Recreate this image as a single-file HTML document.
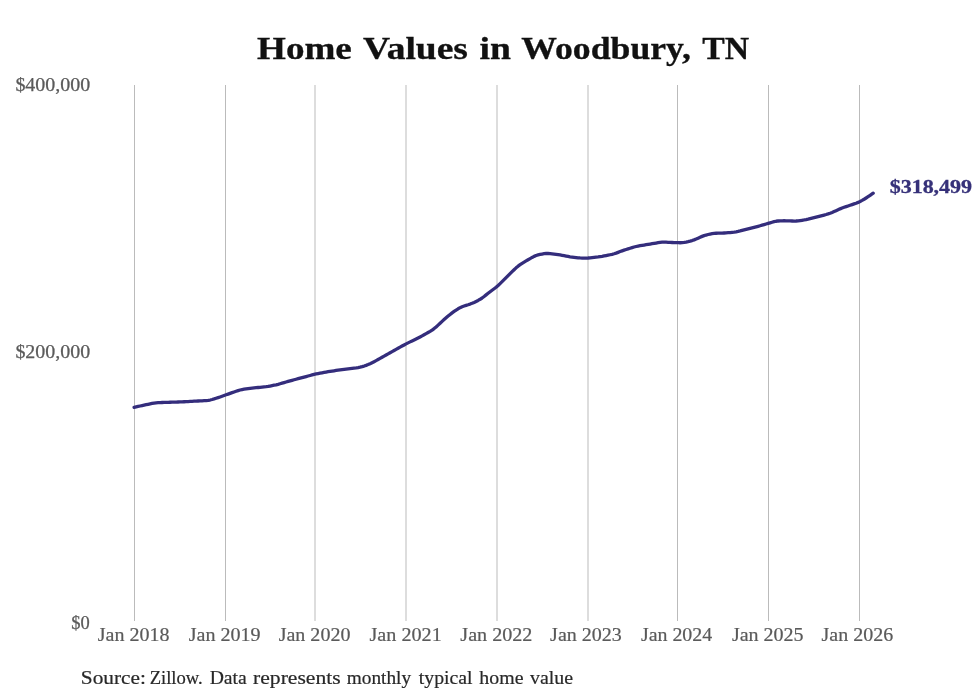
<!DOCTYPE html>
<html><head><meta charset="utf-8"><style>
html,body{margin:0;padding:0;background:#fff;}
svg{display:block;will-change:transform;}
text{font-family:"Liberation Serif",serif;}
</style></head><body>
<svg width="980" height="699" viewBox="0 0 980 699">
<rect width="980" height="699" fill="#fff"/>
<g stroke="#bbb" stroke-width="1"><line x1="134.5" y1="85" x2="134.5" y2="621"/><line x1="225.5" y1="85" x2="225.5" y2="621"/><line x1="315.0" y1="85" x2="315.0" y2="621"/><line x1="406.0" y1="85" x2="406.0" y2="621"/><line x1="497.0" y1="85" x2="497.0" y2="621"/><line x1="588.0" y1="85" x2="588.0" y2="621"/><line x1="677.5" y1="85" x2="677.5" y2="621"/><line x1="768.5" y1="85" x2="768.5" y2="621"/><line x1="859.5" y1="85" x2="859.5" y2="621"/></g>
<text x="257.06" y="59.0" font-size="30.5" font-weight="bold" fill="#111" stroke="#111" stroke-width="0.3" textLength="94.78" lengthAdjust="spacingAndGlyphs">Home</text>
<text x="363.00" y="59.0" font-size="30.5" font-weight="bold" fill="#111" stroke="#111" stroke-width="0.3" textLength="104.90" lengthAdjust="spacingAndGlyphs">Values</text>
<text x="479.45" y="59.0" font-size="30.5" font-weight="bold" fill="#111" stroke="#111" stroke-width="0.3" textLength="31.38" lengthAdjust="spacingAndGlyphs">in</text>
<text x="521.32" y="59.0" font-size="30.5" font-weight="bold" fill="#111" stroke="#111" stroke-width="0.3" textLength="169.55" lengthAdjust="spacingAndGlyphs">Woodbury,</text>
<text x="702.35" y="59.0" font-size="30.5" font-weight="bold" fill="#111" stroke="#111" stroke-width="0.3" textLength="46.88" lengthAdjust="spacingAndGlyphs">TN</text>
<text x="15.40" y="90.5" font-size="17.8" font-weight="normal" fill="#5a5a5a" stroke="#5a5a5a" stroke-width="0.25" textLength="74.83" lengthAdjust="spacingAndGlyphs">$400,000</text>
<text x="15.40" y="358.3" font-size="17.8" font-weight="normal" fill="#5a5a5a" stroke="#5a5a5a" stroke-width="0.25" textLength="74.83" lengthAdjust="spacingAndGlyphs">$200,000</text>
<text x="71.36" y="628.7" font-size="17.8" font-weight="normal" fill="#5a5a5a" stroke="#5a5a5a" stroke-width="0.25" textLength="18.48" lengthAdjust="spacingAndGlyphs">$0</text>
<text x="97.80" y="640.5" font-size="18.4" font-weight="normal" fill="#5a5a5a" stroke="#5a5a5a" stroke-width="0.2" textLength="71.73" lengthAdjust="spacingAndGlyphs">Jan 2018</text>
<text x="188.80" y="640.5" font-size="18.4" font-weight="normal" fill="#5a5a5a" stroke="#5a5a5a" stroke-width="0.2" textLength="71.86" lengthAdjust="spacingAndGlyphs">Jan 2019</text>
<text x="278.70" y="640.5" font-size="18.4" font-weight="normal" fill="#5a5a5a" stroke="#5a5a5a" stroke-width="0.2" textLength="71.73" lengthAdjust="spacingAndGlyphs">Jan 2020</text>
<text x="369.50" y="640.5" font-size="18.4" font-weight="normal" fill="#5a5a5a" stroke="#5a5a5a" stroke-width="0.2" textLength="72.27" lengthAdjust="spacingAndGlyphs">Jan 2021</text>
<text x="460.30" y="640.5" font-size="18.4" font-weight="normal" fill="#5a5a5a" stroke="#5a5a5a" stroke-width="0.2" textLength="72.14" lengthAdjust="spacingAndGlyphs">Jan 2022</text>
<text x="550.10" y="640.5" font-size="18.4" font-weight="normal" fill="#5a5a5a" stroke="#5a5a5a" stroke-width="0.2" textLength="71.73" lengthAdjust="spacingAndGlyphs">Jan 2023</text>
<text x="640.90" y="640.5" font-size="18.4" font-weight="normal" fill="#5a5a5a" stroke="#5a5a5a" stroke-width="0.2" textLength="71.32" lengthAdjust="spacingAndGlyphs">Jan 2024</text>
<text x="731.90" y="640.5" font-size="18.4" font-weight="normal" fill="#5a5a5a" stroke="#5a5a5a" stroke-width="0.2" textLength="71.73" lengthAdjust="spacingAndGlyphs">Jan 2025</text>
<text x="821.60" y="640.5" font-size="18.4" font-weight="normal" fill="#5a5a5a" stroke="#5a5a5a" stroke-width="0.2" textLength="71.59" lengthAdjust="spacingAndGlyphs">Jan 2026</text>
<text x="889.67" y="192.6" font-size="18" font-weight="bold" fill="#363179" stroke="#363179" stroke-width="0.3" textLength="82.44" lengthAdjust="spacingAndGlyphs">$318,499</text>
<text x="80.78" y="683.6" font-size="19" font-weight="normal" fill="#282828" stroke="#282828" stroke-width="0.2" textLength="65.16" lengthAdjust="spacingAndGlyphs">Source:</text>
<text x="149.63" y="683.6" font-size="19" font-weight="normal" fill="#282828" stroke="#282828" stroke-width="0.2" textLength="53.08" lengthAdjust="spacingAndGlyphs">Zillow.</text>
<text x="209.68" y="683.6" font-size="19" font-weight="normal" fill="#282828" stroke="#282828" stroke-width="0.2" textLength="37.11" lengthAdjust="spacingAndGlyphs">Data</text>
<text x="253.07" y="683.6" font-size="19" font-weight="normal" fill="#282828" stroke="#282828" stroke-width="0.2" textLength="87.56" lengthAdjust="spacingAndGlyphs">represents</text>
<text x="346.81" y="683.6" font-size="19" font-weight="normal" fill="#282828" stroke="#282828" stroke-width="0.2" textLength="64.32" lengthAdjust="spacingAndGlyphs">monthly</text>
<text x="418.77" y="683.6" font-size="19" font-weight="normal" fill="#282828" stroke="#282828" stroke-width="0.2" textLength="53.75" lengthAdjust="spacingAndGlyphs">typical</text>
<text x="479.37" y="683.6" font-size="19" font-weight="normal" fill="#282828" stroke="#282828" stroke-width="0.2" textLength="44.13" lengthAdjust="spacingAndGlyphs">home</text>
<text x="530.00" y="683.6" font-size="19" font-weight="normal" fill="#282828" stroke="#282828" stroke-width="0.2" textLength="43.04" lengthAdjust="spacingAndGlyphs">value</text>
<path d="M134.1,407.30 L136.1,406.87 L138.1,406.44 L140.1,406.01 L142.1,405.58 L144.1,405.15 L146.1,404.72 L148.1,404.29 L150.1,403.86 L152.1,403.45 L154.1,403.08 L156.1,402.82 L158.1,402.65 L160.1,402.56 L162.1,402.49 L164.1,402.43 L166.1,402.37 L168.1,402.30 L170.1,402.24 L172.1,402.18 L174.1,402.12 L176.1,402.05 L178.1,401.99 L180.1,401.92 L182.1,401.83 L184.1,401.73 L186.1,401.63 L188.1,401.53 L190.1,401.42 L192.1,401.32 L194.1,401.21 L196.1,401.11 L198.1,401.00 L200.1,400.90 L202.1,400.79 L204.1,400.68 L206.1,400.56 L208.1,400.36 L210.1,400.02 L212.1,399.52 L214.1,398.92 L216.1,398.27 L218.1,397.61 L220.1,396.94 L222.1,396.24 L224.1,395.53 L226.1,394.82 L228.1,394.10 L230.1,393.39 L232.1,392.67 L234.1,391.96 L236.1,391.25 L238.1,390.58 L240.1,389.99 L242.1,389.53 L244.1,389.17 L246.1,388.87 L248.1,388.58 L250.1,388.32 L252.1,388.09 L254.1,387.88 L256.1,387.70 L258.1,387.51 L260.1,387.33 L262.1,387.14 L264.1,386.93 L266.1,386.68 L268.1,386.37 L270.1,386.01 L272.1,385.64 L274.1,385.24 L276.1,384.80 L278.1,384.30 L280.1,383.74 L282.1,383.17 L284.1,382.60 L286.1,382.02 L288.1,381.45 L290.1,380.88 L292.1,380.33 L294.1,379.78 L296.1,379.24 L298.1,378.70 L300.1,378.17 L302.1,377.63 L304.1,377.10 L306.1,376.56 L308.1,376.01 L310.1,375.47 L312.1,374.93 L314.1,374.42 L316.1,373.97 L318.1,373.56 L320.1,373.19 L322.1,372.82 L324.1,372.45 L326.1,372.09 L328.1,371.73 L330.1,371.39 L332.1,371.07 L334.1,370.77 L336.1,370.48 L338.1,370.19 L340.1,369.91 L342.1,369.62 L344.1,369.34 L346.1,369.08 L348.1,368.84 L350.1,368.60 L352.1,368.38 L354.1,368.15 L356.1,367.90 L358.1,367.59 L360.1,367.18 L362.1,366.65 L364.1,366.06 L366.1,365.38 L368.1,364.59 L370.1,363.67 L372.1,362.69 L374.1,361.68 L376.1,360.64 L378.1,359.55 L380.1,358.42 L382.1,357.29 L384.1,356.14 L386.1,355.00 L388.1,353.86 L390.1,352.73 L392.1,351.61 L394.1,350.49 L396.1,349.38 L398.1,348.26 L400.1,347.15 L402.1,346.03 L404.1,344.94 L406.1,343.87 L408.1,342.86 L410.1,341.87 L412.1,340.91 L414.1,339.94 L416.1,338.97 L418.1,337.99 L420.1,336.97 L422.1,335.90 L424.1,334.78 L426.1,333.64 L428.1,332.50 L430.1,331.32 L432.1,330.06 L434.1,328.61 L436.1,326.93 L438.1,325.10 L440.1,323.22 L442.1,321.35 L444.1,319.54 L446.1,317.79 L448.1,316.09 L450.1,314.44 L452.1,312.85 L454.1,311.39 L456.1,310.04 L458.1,308.80 L460.1,307.67 L462.1,306.74 L464.1,306.00 L466.1,305.36 L468.1,304.75 L470.1,304.08 L472.1,303.31 L474.1,302.41 L476.1,301.44 L478.1,300.42 L480.1,299.30 L482.1,298.01 L484.1,296.51 L486.1,294.90 L488.1,293.30 L490.1,291.77 L492.1,290.29 L494.1,288.80 L496.1,287.22 L498.1,285.49 L500.1,283.61 L502.1,281.66 L504.1,279.68 L506.1,277.69 L508.1,275.70 L510.1,273.70 L512.1,271.70 L514.1,269.73 L516.1,267.84 L518.1,266.15 L520.1,264.68 L522.1,263.37 L524.1,262.13 L526.1,260.92 L528.1,259.73 L530.1,258.56 L532.1,257.43 L534.1,256.37 L536.1,255.49 L538.1,254.86 L540.1,254.41 L542.1,254.04 L544.1,253.71 L546.1,253.48 L548.1,253.42 L550.1,253.54 L552.1,253.77 L554.1,254.04 L556.1,254.32 L558.1,254.62 L560.1,254.94 L562.1,255.30 L564.1,255.68 L566.1,256.07 L568.1,256.44 L570.1,256.78 L572.1,257.07 L574.1,257.33 L576.1,257.58 L578.1,257.80 L580.1,257.97 L582.1,258.06 L584.1,258.08 L586.1,258.06 L588.1,257.98 L590.1,257.83 L592.1,257.63 L594.1,257.42 L596.1,257.19 L598.1,256.96 L600.1,256.68 L602.1,256.36 L604.1,255.98 L606.1,255.58 L608.1,255.18 L610.1,254.76 L612.1,254.30 L614.1,253.75 L616.1,253.09 L618.1,252.35 L620.1,251.58 L622.1,250.84 L624.1,250.13 L626.1,249.48 L628.1,248.85 L630.1,248.23 L632.1,247.61 L634.1,247.02 L636.1,246.49 L638.1,246.06 L640.1,245.69 L642.1,245.35 L644.1,245.03 L646.1,244.70 L648.1,244.37 L650.1,244.04 L652.1,243.70 L654.1,243.36 L656.1,243.01 L658.1,242.67 L660.1,242.38 L662.1,242.21 L664.1,242.16 L666.1,242.21 L668.1,242.30 L670.1,242.39 L672.1,242.48 L674.1,242.56 L676.1,242.64 L678.1,242.71 L680.1,242.74 L682.1,242.66 L684.1,242.42 L686.1,242.05 L688.1,241.62 L690.1,241.13 L692.1,240.56 L694.1,239.86 L696.1,239.03 L698.1,238.14 L700.1,237.25 L702.1,236.39 L704.1,235.65 L706.1,235.03 L708.1,234.51 L710.1,234.05 L712.1,233.66 L714.1,233.40 L716.1,233.25 L718.1,233.18 L720.1,233.13 L722.1,233.07 L724.1,232.99 L726.1,232.87 L728.1,232.71 L730.1,232.53 L732.1,232.33 L734.1,232.10 L736.1,231.80 L738.1,231.41 L740.1,230.94 L742.1,230.42 L744.1,229.90 L746.1,229.37 L748.1,228.85 L750.1,228.34 L752.1,227.83 L754.1,227.33 L756.1,226.82 L758.1,226.31 L760.1,225.77 L762.1,225.20 L764.1,224.61 L766.1,224.00 L768.1,223.40 L770.1,222.80 L772.1,222.22 L774.1,221.67 L776.1,221.24 L778.1,220.98 L780.1,220.85 L782.1,220.79 L784.1,220.76 L786.1,220.78 L788.1,220.83 L790.1,220.92 L792.1,221.00 L794.1,221.04 L796.1,220.99 L798.1,220.83 L800.1,220.57 L802.1,220.28 L804.1,219.96 L806.1,219.59 L808.1,219.16 L810.1,218.67 L812.1,218.17 L814.1,217.66 L816.1,217.14 L818.1,216.62 L820.1,216.10 L822.1,215.57 L824.1,215.04 L826.1,214.50 L828.1,213.91 L830.1,213.22 L832.1,212.41 L834.1,211.53 L836.1,210.63 L838.1,209.72 L840.1,208.85 L842.1,208.05 L844.1,207.31 L846.1,206.62 L848.1,205.95 L850.1,205.27 L852.1,204.59 L854.1,203.90 L856.1,203.18 L858.1,202.39 L860.1,201.47 L862.1,200.40 L864.1,199.23 L866.1,197.99 L868.1,196.69 L870.1,195.33 L872.1,193.96 L873.2,193.20 L873.2,193.20" fill="none" stroke="#342d7c" stroke-width="3.3" stroke-linecap="round" stroke-linejoin="round"/>
</svg>
</body></html>
